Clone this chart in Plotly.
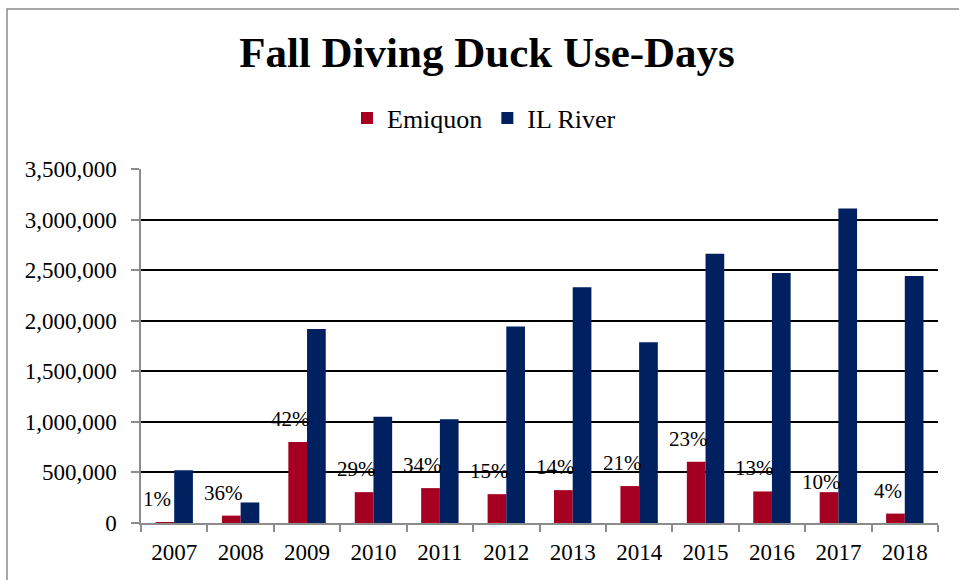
import plotly.graph_objects as go

years = ["2007", "2008", "2009", "2010", "2011", "2012", "2013", "2014", "2015", "2016", "2017", "2018"]
emiquon = [5000, 73000, 800000, 305000, 345000, 285000, 325000, 365000, 605000, 312000, 305000, 93000]
il_river = [522000, 203000, 1918000, 1050000, 1027000, 1944000, 2331000, 1786000, 2663000, 2472000, 3109000, 2442000]
pct_labels = ["1%", "36%", "42%", "29%", "34%", "15%", "14%", "21%", "23%", "13%", "10%", "4%"]
y_ticks = [0, 500000, 1000000, 1500000, 2000000, 2500000, 3000000, 3500000]

FONT = "Times New Roman, Liberation Serif, serif"
RED = "#A50021"
NAVY = "#002060"

# plot area in pixels
W, H = 959, 580
L, R, T, B = 141, 21, 169, 57
PW, PH = W - L - R, H - T - B

fig = go.Figure()
fig.add_trace(go.Bar(name="Emiquon", x=years, y=emiquon, marker=dict(color=RED, line=dict(width=0))))
fig.add_trace(go.Bar(name="IL River", x=years, y=il_river, marker=dict(color=NAVY, line=dict(width=0))))

# percent labels above Emiquon bars (x given as category index)
label_yshift = {"2017": 10}
for i, (yr, val, lab) in enumerate(zip(years, emiquon, pct_labels)):
    fig.add_annotation(x=i, y=val, text=lab, showarrow=False,
                       xshift=-17, yshift=label_yshift.get(yr, 23), yanchor="middle",
                       font=dict(family=FONT, size=21, color="black"))

# chart frame
fig.add_shape(type="rect", xref="paper", yref="paper",
              x0=(7 - L) / PW, x1=(W + 20 - L) / PW,
              y0=-(B + 20) / PH, y1=1 + (T - 9) / PH,
              line=dict(color="#8c8c8c", width=1.5), fillcolor="rgba(0,0,0,0)", layer="below")

fig.update_layout(
    width=W, height=H,
    margin=dict(l=L, r=R, t=T, b=B),
    paper_bgcolor="white", plot_bgcolor="white",
    barmode="group", bargap=0.437, bargroupgap=0,
    font=dict(family=FONT, color="black"),
    title=dict(text="<b>Fall Diving Duck Use-Days</b>", xref="container", yref="container",
               x=487 / W, xanchor="center", y=1 - 52 / H, yanchor="middle",
               font=dict(family=FONT, size=43, color="black")),
    legend=dict(orientation="h", x=(484 - L) / PW, xanchor="center",
                y=1 + (T - 118) / PH, yanchor="middle",
                font=dict(family=FONT, size=26, color="black"),
                itemwidth=30, bgcolor="rgba(0,0,0,0)"),
    showlegend=True,
)

fig.update_xaxes(type="category", range=[-0.5, len(years) - 0.5], showline=True, linecolor="#8c8c8c", linewidth=1.5,
                 ticks="outside", tickson="boundaries", ticklen=7, tickcolor="#8c8c8c", tickwidth=1.5,
                 showgrid=False, tickfont=dict(family=FONT, size=23, color="black"),
                 ticklabelstandoff=8, tickangle=0)
fig.update_yaxes(range=[0, 3500000], tickvals=y_ticks, tickformat=",d",
                 showline=True, linecolor="#8c8c8c", linewidth=1.5,
                 ticks="outside", ticklen=8, tickcolor="#8c8c8c", tickwidth=1.5,
                 showgrid=True, gridcolor="black", gridwidth=1.5, zeroline=False,
                 tickfont=dict(family=FONT, size=23, color="black"), ticklabelstandoff=10)

fig.write_html("out.html")
